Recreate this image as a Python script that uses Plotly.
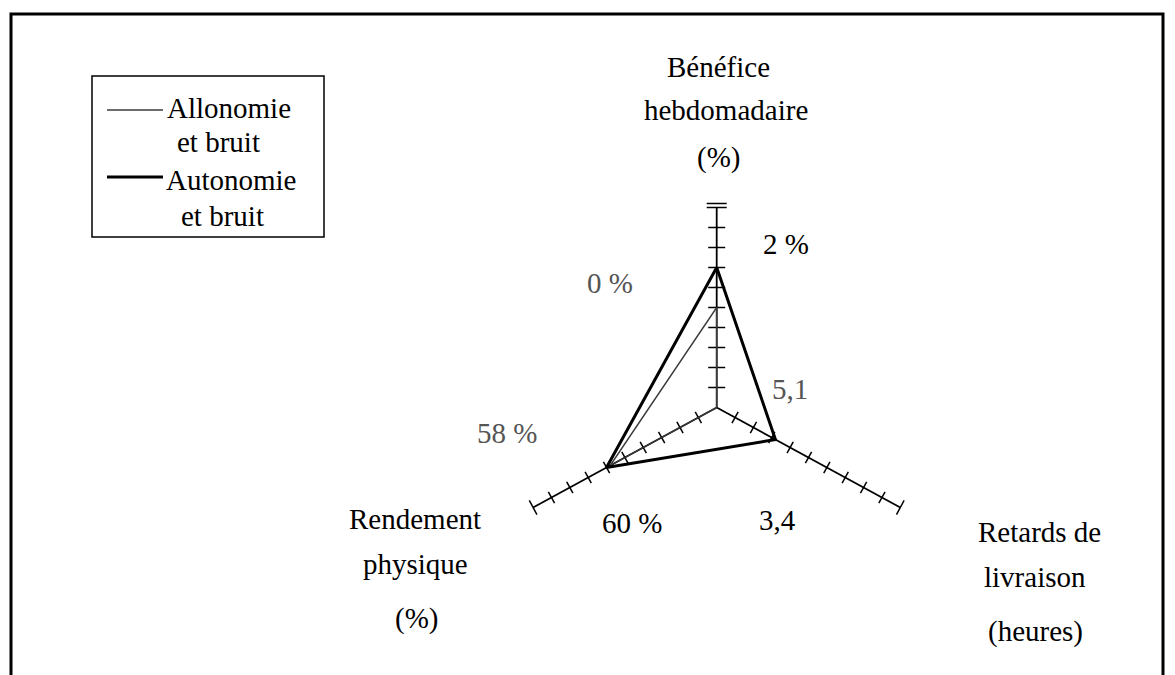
import numpy as np
import plotly.graph_objects as go

W, H = 1175, 675

# Radar axes (clockwise from the top) and the two configurations compared
categories = ["Bénéfice hebdomadaire (%)", "Retards de livraison (heures)", "Rendement physique (%)"]
axis_title_lines = [["Bénéfice", "hebdomadaire", "(%)"],
                    ["Retards de", "livraison", "(heures)"],
                    ["Rendement", "physique", "(%)"]]
series_names = ["Allonomie<br>et bruit", "Autonomie<br>et bruit"]
allonomie = [0, 5.1, 58]
autonomie = [2, 3.4, 60]
labels_allonomie = ["0 %", "5,1", "58 %"]
labels_autonomie = ["2 %", "3,4", "60 %"]

# Scale of each axis: value at the centre, value at the outer end, tick step
axis_start = [-5, 5, 0]
axis_end = [5, 0, 100]
axis_step = [1, 0.5, 10]

# Layout geometry (pixels)
CX, CY = 716.7, 407.5
SX, SY = 212.0, 200.0
angles = np.radians([90, -30, 210])

FONT = "'Liberation Serif', 'Times New Roman', Times, serif"
FS = 29


def radius(i, v):
    r = (v - axis_start[i]) / (axis_end[i] - axis_start[i])
    return min(max(r, 0.0), 1.0)


def point(i, v):
    r = radius(i, v)
    return r * np.cos(angles[i]), r * np.sin(angles[i])


def to_data(px, py):
    return (px - CX) / SX, (CY - py) / SY


def to_pix(x, y):
    return CX + x * SX, CY - y * SY


def polygon(values):
    xs, ys = [], []
    for i, v in enumerate(values):
        x, y = point(i, v)
        xs.append(x)
        ys.append(y)
    xs.append(xs[0])
    ys.append(ys[0])
    return xs, ys


fig = go.Figure()

# Axis spokes
ax_x, ax_y = [], []
for i in range(3):
    ax_x += [0, np.cos(angles[i]), None]
    ax_y += [0, np.sin(angles[i]), None]
fig.add_trace(go.Scatter(x=ax_x, y=ax_y, mode="lines",
                         line=dict(color="black", width=1.8),
                         hoverinfo="skip", showlegend=False))

# Tick marks along each spoke
tk_x, tk_y = [], []
for i in range(3):
    n = int(round(abs(axis_end[i] - axis_start[i]) / axis_step[i]))
    dpx = np.array([SX * np.cos(angles[i]), -SY * np.sin(angles[i])])
    dpx /= np.linalg.norm(dpx)
    perp = np.array([-dpx[1], dpx[0]])
    half = 8.5 if i == 0 else 6.5
    for k in range(1, n + 1):
        v = axis_start[i] + k * (axis_end[i] - axis_start[i]) / n
        x, y = point(i, v)
        px, py = to_pix(x, y)
        offsets = [0.0]
        h = half
        if k == n:
            h = half + 1.5
            if i == 0:
                offsets = [0.0, -4.0]
        for off in offsets:
            bx, by = px - dpx[0] * off, py - dpx[1] * off
            a = to_data(bx - perp[0] * h, by - perp[1] * h)
            b = to_data(bx + perp[0] * h, by + perp[1] * h)
            tk_x += [a[0], b[0], None]
            tk_y += [a[1], b[1], None]
fig.add_trace(go.Scatter(x=tk_x, y=tk_y, mode="lines",
                         line=dict(color="black", width=1.5),
                         hoverinfo="skip", showlegend=False))

# Series polygons
xa, ya = polygon(allonomie)
fig.add_trace(go.Scatter(x=xa, y=ya, mode="lines", name=series_names[0],
                         line=dict(color="#3c3c3c", width=1.4), showlegend=False))
xb, yb = polygon(autonomie)
fig.add_trace(go.Scatter(x=xb, y=yb, mode="lines", name=series_names[1],
                         line=dict(color="black", width=3), showlegend=False))

annotations = []


def text(s, px, py, color="black", size=FS):
    annotations.append(dict(text=s, x=px / W, y=1 - py / H, xref="paper", yref="paper",
                            xanchor="center", yanchor="middle", showarrow=False,
                            font=dict(family=FONT, size=size, color=color)))


# Axis titles
title_pos = [[(719, 67), (726, 110), (719, 157)],
             [(1039, 532), (1035, 577), (1035, 631)],
             [(415, 519), (415, 564), (416, 618)]]
for lines, pos in zip(axis_title_lines, title_pos):
    for s, (px, py) in zip(lines, pos):
        text(s, px, py)

# Value labels
label_pos_autonomie = [(786, 244), (777, 520), (632, 523)]
label_pos_allonomie = [(610, 283), (790, 389), (507, 433)]
for s, (px, py) in zip(labels_autonomie, label_pos_autonomie):
    text(s, px, py)
for s, (px, py) in zip(labels_allonomie, label_pos_allonomie):
    text(s, px, py, color="#555555")

# Legend text
text("Allonomie", 229, 108)
text("et bruit", 218, 142)
text("Autonomie", 231, 180)
text("et bruit", 222, 216)

shapes = [
    # outer frame
    dict(type="rect", xref="paper", yref="paper", x0=11 / W, x1=1163 / W,
         y0=-0.1, y1=1 - 14 / H, line=dict(color="black", width=3)),
    # legend box
    dict(type="rect", xref="paper", yref="paper", x0=92 / W, x1=324 / W,
         y0=1 - 237 / H, y1=1 - 76 / H, line=dict(color="black", width=1.5)),
    # legend swatches
    dict(type="line", xref="paper", yref="paper", x0=107 / W, x1=163 / W,
         y0=1 - 110 / H, y1=1 - 110 / H, line=dict(color="#3c3c3c", width=1.4)),
    dict(type="line", xref="paper", yref="paper", x0=107 / W, x1=163 / W,
         y0=1 - 177 / H, y1=1 - 177 / H, line=dict(color="black", width=3)),
]

fig.update_layout(
    width=W, height=H,
    margin=dict(l=0, r=0, t=0, b=0),
    paper_bgcolor="white", plot_bgcolor="white",
    xaxis=dict(visible=False, range=[-CX / SX, (W - CX) / SX], fixedrange=True),
    yaxis=dict(visible=False, range=[-(H - CY) / SY, CY / SY], fixedrange=True),
    showlegend=False,
    annotations=annotations,
    shapes=shapes,
)

fig.write_html("out.html")
